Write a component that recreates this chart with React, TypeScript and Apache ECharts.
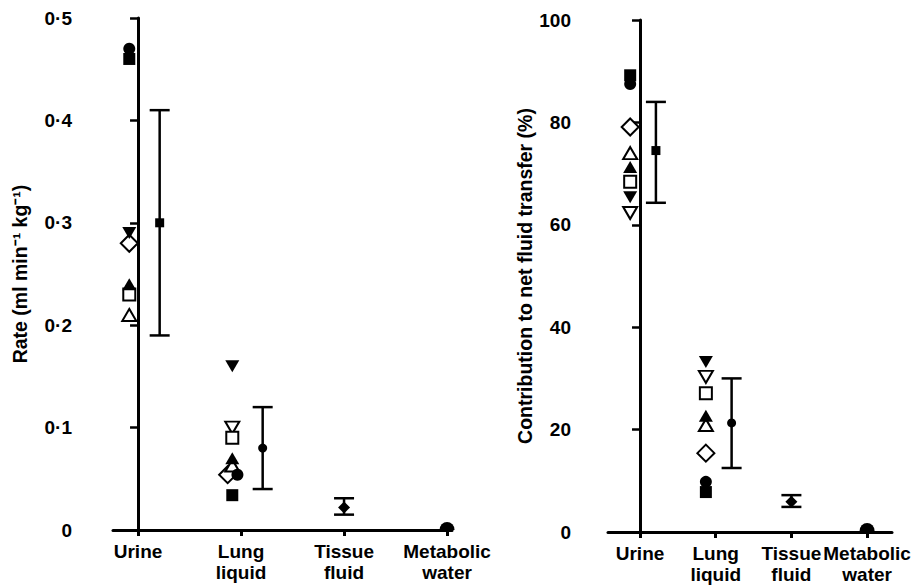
import React, { useEffect, useRef } from "react";
import * as echarts from "echarts";

// Categories
const categories = ["Urine", "Lung\nliquid", "Tissue\nfluid", "Metabolic\nwater"];

// Animals (marker order): filled circle, filled square, filled down-tri, open down-tri,
// open diamond, filled up-tri, open square, open up-tri
const animalSymbols = ["circle", "rect", "triangle", "triangle", "diamond", "triangle", "rect", "triangle"];
const animalRotate = [0, 0, 180, 180, 0, 0, 0, 0];
const animalFilled = [true, true, true, false, false, true, false, false];
const animalSizes: any[] = [12, 12, [14, 12], [14, 12], 17, [14, 12], 12, [14, 12]];

// Left panel: rate (ml min-1 kg-1)
const leftUrine = [0.47, 0.46, 0.29, null, 0.28, 0.24, 0.23, 0.21];
const leftLung = [0.054, 0.034, 0.16, 0.1, 0.054, 0.07, 0.09, 0.063];
const leftLungJitter = [0.05, 0, 0, 0, -0.045, 0, 0, 0];
const leftMeans = [0.3, 0.08, 0.022, 0.004];
const leftLow = [0.19, 0.04, 0.015, null];
const leftHigh = [0.41, 0.12, 0.031, null];

// Right panel: contribution (%)
const rightUrine = [87.5, 89.2, 65.4, 62.3, 79.1, 71.3, 68.4, 74];
const rightLung = [9.8, 7.8, 33.2, 30.3, 15.4, 22.7, 27.1, 20.9];
const rightMeans = [74.5, 21.3, 5.9, 1.0];
const rightLow = [64.3, 12.5, 4.9, null];
const rightHigh = [84, 30, 7.2, null];

const leftYTicks = [0, 0.1, 0.2, 0.3, 0.4, 0.5];
const rightYTicks = [0, 20, 40, 60, 80, 100];

const meanSymbols = ["rect", "circle", "diamond", "path://M0,10 A10,10 0 0 1 20,10 Z"];
const meanSizes: any[] = [9, 9, 12, [15, 8]];

const FONT = "Liberation Sans";

function buildPanel(idx: number, urine: any[], lung: any[], jitter: number[], means: number[], lows: any[], highs: any[], markerOff: number, meanOff: number) {
  const series: any[] = [];
  const order = [3, 4, 6, 7, 0, 1, 2, 5];
  order.forEach((a) => {
    const data: any[] = [];
    if (urine[a] != null) data.push([0 + markerOff, urine[a]]);
    if (lung[a] != null) data.push([1 + markerOff + jitter[a], lung[a]]);
    series.push({
      type: "scatter",
      xAxisIndex: idx,
      yAxisIndex: idx,
      symbol: animalSymbols[a],
      symbolRotate: animalRotate[a],
      symbolSize: animalSizes[a],
      itemStyle: animalFilled[a]
        ? { color: "#000", borderWidth: 0, opacity: 1 }
        : { color: "#fff", borderColor: "#000", borderWidth: 2, opacity: 1 },
      data,
      z: 3,
    });
  });
  const errData: any[] = [];
  means.forEach((m, i) => {
    if (lows[i] != null) {
      const off = i < 2 ? meanOff : 0;
      errData.push([i + off, lows[i], highs[i]]);
    }
  });
  series.push({
    type: "custom",
    xAxisIndex: idx,
    yAxisIndex: idx,
    encode: { x: 0, y: [1, 2] },
    z: 2,
    renderItem: (params: any, api: any) => {
      const x = api.value(0);
      const lo = api.value(1);
      const hi = api.value(2);
      const p1 = api.coord([x, lo]);
      const p2 = api.coord([x, hi]);
      const st = { stroke: "#000", lineWidth: 2.5 };
      return {
        type: "group",
        children: [
          { type: "line", shape: { x1: p1[0], y1: p1[1], x2: p2[0], y2: p2[1] }, style: st },
          { type: "line", shape: { x1: p1[0] - 10, y1: p1[1], x2: p1[0] + 10, y2: p1[1] }, style: st },
          { type: "line", shape: { x1: p2[0] - 10, y1: p2[1], x2: p2[0] + 10, y2: p2[1] }, style: st },
        ],
      };
    },
    data: errData,
  });
  means.forEach((m, i) => {
    const off = i < 2 ? meanOff : 0;
    series.push({
      type: "scatter",
      xAxisIndex: idx,
      yAxisIndex: idx,
      symbol: meanSymbols[i],
      symbolSize: meanSizes[i],
      itemStyle: { color: "#000", opacity: 1 },
      data: [[i + off, m]],
      z: 4,
    });
  });
  return series;
}

export default function App() {
  const ref = useRef<HTMLDivElement>(null);
  useEffect(() => {
    if (!ref.current) return;
    const chart = echarts.init(ref.current, undefined, { renderer: "svg" });
    const xAxisBase = (min: number, max: number, gridIndex: number) => ({
      type: "value",
      gridIndex,
      min,
      max,
      splitLine: { show: false },
      axisLine: { show: true, lineStyle: { color: "#000", width: 3 } },
      axisTick: { show: true, customValues: [0, 1, 2, 3], length: 6, lineStyle: { color: "#000", width: 3 } },
      axisLabel: {
        customValues: [0, 1, 2, 3],
        formatter: (v: number) => categories[Math.round(v)],
        fontFamily: FONT,
        fontWeight: "bold",
        fontSize: 19,
        lineHeight: 21,
        color: "#000",
        margin: 11,
      },
    });
    const yAxisBase = (min: number, max: number, interval: number, gridIndex: number, offset: number, name: string, nameGap: number, fmt: (v: number) => string, ticks: number[]) => ({
      type: "value",
      gridIndex,
      min,
      max,
      interval,
      offset,
      name,
      nameLocation: "middle",
      nameGap,
      nameTextStyle: { fontFamily: FONT, fontSize: 19.5, color: "#000", fontWeight: "bold" },
      splitLine: { show: false },
      axisLine: { show: true, lineStyle: { color: "#000", width: 3 } },
      axisTick: { show: true, length: 8, lineStyle: { color: "#000", width: 2.5 } },
      axisLabel: {
        customValues: ticks,
        formatter: fmt,
        fontFamily: FONT,
        fontWeight: "bold",
        fontSize: 19,
        color: "#000",
        margin: 16,
      },
    });
    const option: any = {
      animation: false,
      backgroundColor: "#fff",
      grid: [
        { left: 113, top: 18, width: 339, height: 512 },
        { left: 608, top: 20, width: 284, height: 512 },
      ],
      xAxis: [xAxisBase(-0.243, 3.048, 0), xAxisBase(-0.423, 3.329, 1)],
      yAxis: [
        yAxisBase(0, 0.5, 0.1, 0, 25, "Rate (ml min\u207B\u00B9 kg\u207B\u00B9)", 58,
          (v: number) => (v === 0 ? "0" : v.toFixed(1).replace(".", "\u00B7")), leftYTicks),
        yAxisBase(0, 100, 20, 1, 21, "Contribution to net fluid transfer (%)", 50,
          (v: number) => String(Math.round(v)), rightYTicks),
      ],
      series: [
        ...buildPanel(0, leftUrine, leftLung, leftLungJitter, leftMeans, leftLow, leftHigh, -0.085, 0.21),
        ...buildPanel(1, rightUrine, rightLung, [0, 0, 0, 0, 0, 0, 0, 0], rightMeans, rightLow, rightHigh, -0.13, 0.21),
      ],
    };
    chart.setOption(option);
    return () => chart.dispose();
  }, []);
  return <div ref={ref} style={{ position: "absolute", left: 0, top: 0, width: 923, height: 587 }} />;
}
